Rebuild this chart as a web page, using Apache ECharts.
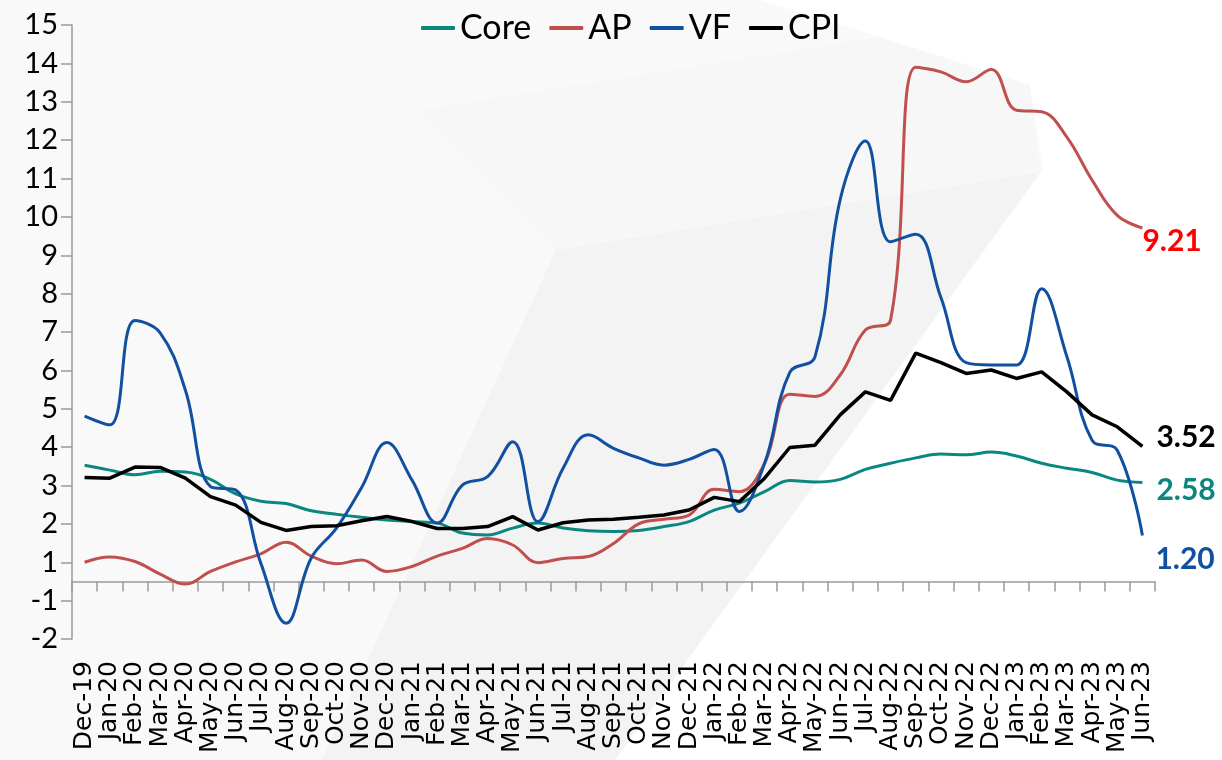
<!DOCTYPE html>
<html>
<head>
<meta charset="utf-8">
<script src="https://cdn.jsdelivr.net/npm/echarts@6/dist/echarts.min.js"></script>
<style>
html,body{margin:0;padding:0;background:#f9f9f9;}
#chart{width:1222px;height:760px;}
</style>
</head>
<body>
<div id="chart"></div>
<script>
// months on the x axis
var months = ['Dec-19','Jan-20','Feb-20','Mar-20','Apr-20','May-20','Jun-20','Jul-20','Aug-20','Sep-20',
    'Oct-20','Nov-20','Dec-20','Jan-21','Feb-21','Mar-21','Apr-21','May-21','Jun-21','Jul-21',
    'Aug-21','Sep-21','Oct-21','Nov-21','Dec-21','Jan-22','Feb-22','Mar-22','Apr-22','May-22',
    'Jun-22','Jul-22','Aug-22','Sep-22','Oct-22','Nov-22','Dec-22','Jan-23','Feb-23','Mar-23',
    'Apr-23','May-23','Jun-23'];

var core = [3.03,2.90,2.78,2.87,2.85,2.66,2.28,2.09,2.03,1.84,
    1.75,1.67,1.60,1.56,1.52,1.26,1.21,1.39,1.52,1.39,
    1.32,1.30,1.33,1.43,1.56,1.86,2.04,2.34,2.63,2.59,
    2.66,2.92,3.08,3.22,3.32,3.30,3.37,3.27,3.08,2.95,
    2.84,2.64,2.58];
var ap = [0.50,0.64,0.52,0.19,-0.07,0.26,0.51,0.72,1.02,0.66,
    0.46,0.56,0.26,0.39,0.66,0.86,1.12,0.95,0.49,0.60,
    0.65,0.99,1.50,1.62,1.73,2.40,2.34,3.08,4.88,4.82,
    5.38,6.55,6.81,13.40,13.28,13.02,13.34,12.28,12.24,11.58,
    10.46,9.54,9.21];
var vf = [4.31,4.08,6.80,6.48,4.99,2.47,2.38,0.47,-1.09,0.61,
    1.39,2.45,3.62,2.64,1.52,2.51,2.73,3.64,1.56,2.95,
    3.82,3.47,3.22,3.03,3.18,3.44,1.82,3.08,5.45,5.85,
    9.95,11.48,8.85,9.05,7.40,5.70,5.64,5.64,7.63,5.86,
    3.68,3.42,1.20];
var cpi = [2.71,2.69,2.98,2.97,2.69,2.21,1.99,1.54,1.33,1.43,
    1.45,1.58,1.69,1.56,1.38,1.38,1.43,1.69,1.34,1.53,
    1.60,1.62,1.67,1.73,1.86,2.19,2.08,2.69,3.49,3.55,
    4.34,4.94,4.72,5.95,5.70,5.42,5.51,5.29,5.46,4.94,
    4.34,4.03,3.52];

var colors = {Core:'#0a877f', AP:'#c0504d', VF:'#1150a0', CPI:'#000000'};

// only the last point carries a label
function withEndLabel(arr, color, offset) {
    return arr.map(function(v, i) {
        if (i !== arr.length - 1) return v;
        return {
            value: v,
            label: {
                show: true,
                position: 'right',
                distance: 0,
                offset: offset,
                formatter: function(p) { return p.value.toFixed(2); },
                color: color,
                fontFamily: 'Lato',
                fontWeight: 'bold',
                fontSize: 30
            }
        };
    });
}

function lineSeries(name, arr, smooth, width, labelColor, offset) {
    return {
        name: name,
        type: 'line',
        xAxisIndex: 0,
        smooth: smooth,
        symbol: 'circle',
        symbolSize: 0,
        showSymbol: true,
        showAllSymbol: true,
        lineStyle: {width: width, color: colors[name]},
        itemStyle: {color: colors[name]},
        emphasis: {disabled: true},
        data: withEndLabel(arr, labelColor, offset),
        z: 3
    };
}

var chart = echarts.init(document.getElementById('chart'));
var option = {
    backgroundColor: '#f9f9f9',
    animation: false,
    graphic: [{
        type: 'polygon', z: -10, silent: true,
        shape: {points: [[322,760],[556,250],[1040,172],[615,760]]},
        style: {fill: '#f3f3f3'}
    }, {
        type: 'polygon', z: -10, silent: true,
        shape: {points: [[556,250],[1040,172],[1030,85],[880,37],[420,110]]},
        style: {fill: '#f7f7f7'}
    }, {
        type: 'polygon', z: -9, silent: true,
        shape: {points: [[615,760],[1043,170],[1030,85],[880,37],[760,0],[1222,0],[1222,760]]},
        style: {fill: '#ffffff'}
    }],
    legend: {
        top: 6,
        left: 416,
        itemWidth: 34,
        itemHeight: 4,
        itemGap: 18,
        icon: 'roundRect',
        textStyle: {fontFamily: 'Lato', fontSize: 34, color: '#000'},
        data: ['Core', 'AP', 'VF', 'CPI']
    },
    grid: {left: 72, right: 67, top: 25, bottom: 121},
    xAxis: [{
        type: 'category',
        data: months,
        boundaryGap: true,
        position: 'bottom',
        axisLine: {show: false, onZero: false},
        axisTick: {show: false},
        axisLabel: {
            interval: 0,
            rotate: 90,
            margin: 22,
            fontFamily: 'DejaVu Sans',
            fontSize: 25,
            color: '#000'
        }
    }, {
        type: 'category',
        data: months,
        boundaryGap: true,
        position: 'bottom',
        axisLine: {show: true, onZero: true, lineStyle: {color: '#9a9a9a', width: 1.5}},
        axisTick: {show: true, interval: 0, inside: false, length: 10, lineStyle: {color: '#9a9a9a', width: 1.5}},
        axisLabel: {show: false, interval: 0}
    }],
    yAxis: {
        type: 'value',
        min: -1.5,
        max: 14.5,
        interval: 1,
        axisLine: {show: true, lineStyle: {color: '#9a9a9a', width: 1.5}},
        axisTick: {show: true, length: 11, lineStyle: {color: '#9a9a9a', width: 1.5}},
        splitLine: {show: false},
        axisLabel: {
            margin: 14,
            fontFamily: 'Lato',
            fontSize: 29,
            color: '#000',
            // axis labels are rounded half away from zero, like the original
            formatter: function(v) {
                var r = Math.round(Math.abs(v));
                return (v < 0 ? '-' : '') + r;
            }
        }
    },
    series: [
        lineSeries('Core', core, 0.4, 3, colors.Core, [14, 8]),
        lineSeries('AP', ap, 0.4, 3, '#ff0000', [0, 13]),
        lineSeries('VF', vf, 0.4, 3, colors.VF, [13, 24]),
        lineSeries('CPI', cpi, false, 3.5, '#000000', [14, -9])
    ]
};
chart.setOption(option);
</script>
</body>
</html>
